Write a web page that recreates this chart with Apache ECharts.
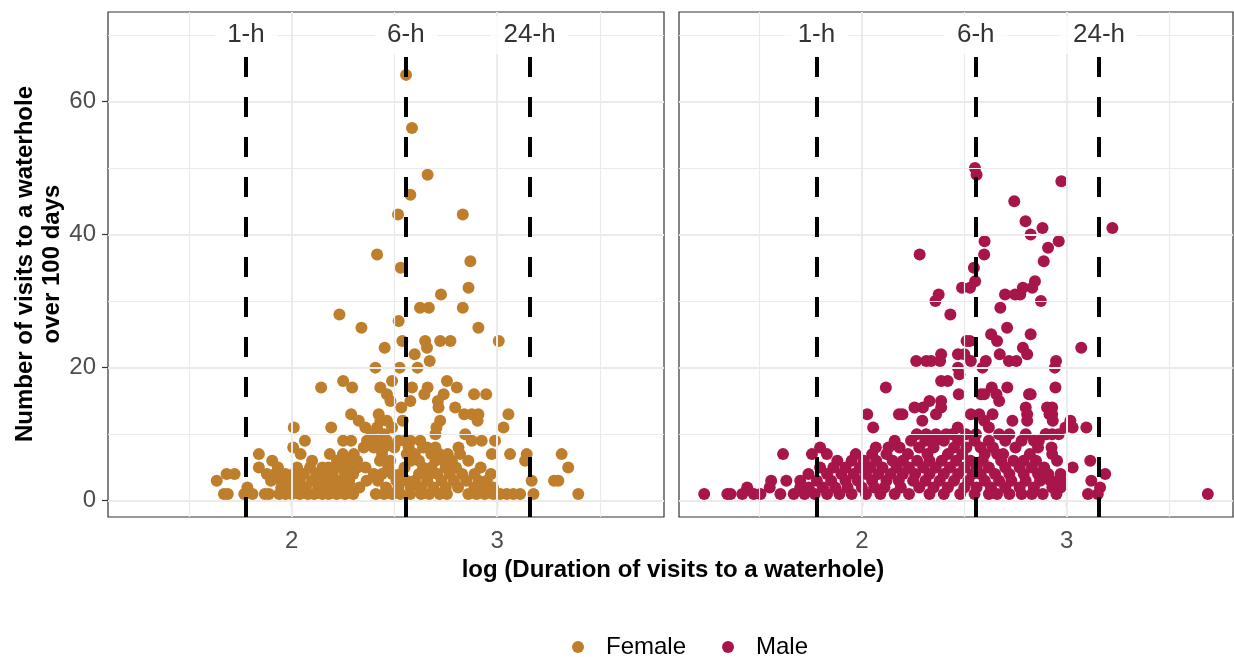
<!DOCTYPE html>
<html>
<head>
<meta charset="utf-8">
<script src="https://cdn.jsdelivr.net/npm/echarts@6/dist/echarts.min.js"></script>
<style>html,body{margin:0;padding:0;background:#fff}#c{width:1234px;height:657px}</style>
</head>
<body>
<div id="c"></div>
<script>
// ---- data (x = log10 duration, y = visits) ----
const female = [
[2.557,64],[2.586,56],[2.662,49],[2.578,46],[2.518,43],[2.833,43],[2.416,37],[2.870,36],[2.531,35],[2.861,32],
[2.727,31],[2.625,29],[2.668,29],[2.833,29],[2.233,28],[2.521,27],[2.340,26],[2.909,26],[2.539,24],[2.650,24],
[2.723,24],[2.773,24],[3.008,24],[2.453,23],[2.659,23],[2.599,22],[2.672,21],[2.408,20],[2.526,20],[2.613,20],
[2.251,18],[2.489,18],[2.756,18],[2.144,17],[2.295,17],[2.432,17],[2.586,17],[2.662,17],[2.804,17],[2.464,16],
[2.646,16],[2.740,16],[2.888,16],[2.947,16],[2.481,15],[2.578,15],[2.712,15],[2.534,14],[2.715,14],[2.796,14],
[2.290,13],[2.424,13],[2.840,13],[2.877,13],[2.909,13],[3.055,13],[2.327,12],[2.432,12],[2.464,12],[2.541,12],
[2.723,12],[2.905,12],[2.011,11],[2.193,11],[2.359,11],[2.416,11],[2.489,11],[2.705,11],[3.031,11],[2.700,10],
[2.845,10],[2.450,10],[2.390,10],
[2.065,9],[2.251,9],[2.290,9],[2.367,9],[2.416,9],[2.464,9],[2.521,9],[2.578,9],[2.626,9],[2.877,9],[2.925,9],[2.990,9],[2.550,9],
[2.008,8],[2.351,8],[2.400,8],[2.500,8],[2.570,8],[2.640,8],[2.812,8],[2.660,8],[2.700,8],[2.450,8],
[1.841,7],[2.044,7],[2.186,7],[2.303,7],[2.440,7],[2.560,7],[2.600,7],[2.680,7],[2.720,7],[2.760,7],[2.974,7],[3.063,7],[3.144,7],[3.314,7],[2.820,7],[2.250,7],
[1.906,6],[2.221,6],[2.319,6],[2.430,6],[2.480,6],[2.580,6],[2.620,6],[2.700,6],[2.740,6],[2.860,6],[3.136,6],[2.100,6],[2.270,6],[2.780,6],
[1.841,5],[1.934,5],[2.027,5],[2.150,5],[2.180,5],[2.220,5],[2.270,5],[2.360,5],[2.470,5],[2.550,5],[2.640,5],[2.680,5],[2.750,5],[2.800,5],[2.920,5],[3.346,5],[2.090,5],[2.320,5],
[1.684,4],[1.723,4],[1.880,4],[1.920,4],[1.970,4],[2.010,4],[2.060,4],[2.120,4],[2.170,4],[2.200,4],[2.260,4],[2.300,4],[2.400,4],[2.440,4],[2.490,4],[2.530,4],[2.620,4],[2.670,4],[2.710,4],[2.770,4],[2.830,4],[2.970,4],[2.890,4],
[1.636,3],[1.900,3],[1.950,3],[2.000,3],[2.040,3],[2.100,3],[2.140,3],[2.190,3],[2.240,3],[2.280,3],[2.365,3],[2.420,3],[2.510,3],[2.560,3],[2.600,3],[2.660,3],[2.730,3],[2.790,3],[2.850,3],[2.910,3],[3.168,3],[3.277,3],[3.298,3],[2.950,3],
[1.785,2],[1.950,2],[1.980,2],[2.030,2],[2.070,2],[2.130,2],[2.160,2],[2.210,2],[2.250,2],[2.290,2],[2.330,2],[2.460,2],[2.520,2],[2.580,2],[2.630,2],[2.690,2],[2.750,2],[2.890,2],[2.930,2],[2.980,2],[2.810,2],
[1.671,1],[1.690,1],[1.770,1],[1.810,1],[1.870,1],[1.890,1],[1.940,1],[1.970,1],[2.000,1],[2.040,1],[2.080,1],[2.110,1],[2.150,1],[2.180,1],[2.220,1],[2.260,1],[2.300,1],[2.410,1],[2.450,1],[2.490,1],[2.530,1],[2.578,1],[2.630,1],[2.670,1],[2.720,1],[2.756,1],[2.860,1],[2.900,1],[2.940,1],[2.982,1],[3.015,1],[3.047,1],[3.079,1],[3.112,1],[3.177,1],[3.395,1]
];
const male = [
[2.552,50],[2.560,49],[2.974,48],[2.744,45],[2.799,42],[2.882,41],[3.223,41],[2.824,40],[2.961,39],[2.599,39],
[2.909,38],[2.282,37],[2.597,37],[2.888,36],[2.547,35],[2.553,33],[2.845,33],[2.489,32],[2.528,32],[2.786,32],
[2.832,32],[2.375,31],[2.699,31],[2.748,31],[2.773,31],[2.359,30],[2.874,30],[2.676,29],[2.432,28],[2.709,26],
[2.631,25],[2.824,25],[2.660,24],[2.511,24],[2.527,24],[2.786,23],[3.071,23],[2.807,22],[2.387,22],[2.469,22],
[2.500,22],[2.673,22],[2.265,21],[2.314,21],[2.338,21],[2.382,21],[2.532,21],[2.605,21],[2.718,21],[2.754,21],
[2.948,21],[2.589,20],[2.469,20],[2.942,20],[2.476,19],[2.387,18],[2.419,18],[2.117,17],[2.634,17],[2.710,17],[2.945,17],
[2.473,16],[2.581,16],[2.597,16],[2.657,16],[2.816,16],[2.824,16],
[2.670,15],[2.330,15],[2.387,15],
[2.257,14],[2.298,14],[2.387,14],[2.800,14],[2.904,14],[2.929,14],
[2.026,13],[2.181,13],[2.198,13],[2.362,13],[2.532,13],[2.573,13],[2.638,13],[2.807,13],[2.916,13],[2.929,13],
[2.295,12],[2.597,12],[2.735,12],[2.807,12],[2.932,12],[3.018,12],
[2.055,11],[2.468,11],[2.994,11],[3.029,11],[3.096,11],[2.620,11],
[2.268,10],[2.314,10],[2.362,10],[2.411,10],[2.508,10],[2.557,10],[2.670,10],[2.897,10],[2.929,10],[2.900,10],[2.961,10],[2.440,10],[2.720,10],[2.800,10],
[2.160,9],[2.864,9],[2.240,9],[2.360,9],[2.400,9],[2.470,9],[2.550,9],[2.620,9],[2.700,9],[2.780,9],[2.840,9],[2.310,9],
[2.068,8],[1.796,8],[2.184,8],[2.280,8],[2.350,8],[2.450,8],[2.510,8],[2.580,8],[2.640,8],[2.750,8],[2.926,8],[2.860,8],[2.130,8],
[1.615,7],[1.756,7],[1.829,7],[1.970,7],[2.225,7],[2.320,7],[2.420,7],[2.490,7],[2.600,7],[2.660,7],[2.690,7],[2.820,7],[2.929,7],[2.050,7],[2.120,7],
[1.880,6],[1.950,6],[2.010,6],[2.070,6],[2.150,6],[2.200,6],[2.270,6],[2.330,6],[2.390,6],[2.460,6],[2.530,6],[2.590,6],[2.680,6],[2.740,6],[2.790,6],[2.850,6],[2.953,6],[3.115,6],
[1.796,5],[1.861,5],[1.920,5],[1.990,5],[2.040,5],[2.100,5],[2.170,5],[2.230,5],[2.300,5],[2.360,5],[2.430,5],[2.500,5],[2.560,5],[2.620,5],[2.700,5],[2.770,5],[2.830,5],[2.890,5],[3.029,5],
[1.739,4],[1.830,4],[1.900,4],[1.960,4],[2.020,4],[2.080,4],[2.140,4],[2.200,4],[2.260,4],[2.330,4],[2.400,4],[2.470,4],[2.540,4],[2.580,4],[2.650,4],[2.720,4],[2.790,4],[2.860,4],[2.910,4],[3.188,4],[2.970,4],
[1.557,3],[1.631,3],[1.699,3],[1.780,3],[1.850,3],[1.920,3],[1.980,3],[2.050,3],[2.120,3],[2.180,3],[2.250,3],[2.310,3],[2.380,3],[2.450,3],[2.520,3],[2.600,3],[2.670,3],[2.730,3],[2.800,3],[2.870,3],[2.920,3],[2.955,3],[2.975,3],[3.120,3],
[1.440,2],[1.550,2],[1.699,2],[1.740,2],[1.810,2],[1.870,2],[1.930,2],[2.000,2],[2.060,2],[2.110,2],[2.190,2],[2.280,2],[2.350,2],[2.420,2],[2.500,2],[2.560,2],[2.630,2],[2.700,2],[2.770,2],[2.840,2],[2.930,2],[2.970,2],[3.163,2],
[1.230,1],[1.343,1],[1.359,1],[1.416,1],[1.472,1],[1.505,1],[1.602,1],[1.667,1],[1.720,1],[1.770,1],[1.830,1],[1.890,1],[1.950,1],[2.020,1],[2.090,1],[2.160,1],[2.230,1],[2.330,1],[2.400,1],[2.480,1],[2.550,1],[2.620,1],[2.660,1],[2.720,1],[2.780,1],[2.830,1],[2.883,1],[2.950,1],[3.104,1],[3.152,1],[3.689,1]
];
const refX = [1.778, 2.556, 3.158];        // log10(60), log10(360), log10(1440)
const refLabels = ['1-h', '6-h', '24-h'];
const refLabelY = 70;
const refLineTop = 67;
const xTicks = [2, 3];
const yTicks = [0, 20, 40, 60];
const xMinor = [1.5, 2.5, 3.5];
const yMinor = [10, 30, 50, 70];
const xRange = [1.107, 3.812];
const yRange = [-2.45, 73.45];
const groups = ['Female', 'Male'];
const colors = ['#BF7E2C', '#A8154A'];

const FONT = '"Liberation Sans", Arial, sans-serif';
const GRID_COLOR = '#EBEBEB';

function gridLineSeries(i) {
  const d = [];
  xMinor.forEach(v => d.push({xAxis: v, lineStyle: {color: GRID_COLOR, width: 1.2, type: 'solid'}}));
  xTicks.forEach(v => d.push({xAxis: v, lineStyle: {color: GRID_COLOR, width: 2, type: 'solid'}}));
  yMinor.forEach(v => d.push({yAxis: v, lineStyle: {color: GRID_COLOR, width: 1.2, type: 'solid'}}));
  yTicks.forEach(v => d.push({yAxis: v, lineStyle: {color: GRID_COLOR, width: 2, type: 'solid'}}));
  return {
    type: 'scatter', xAxisIndex: i, yAxisIndex: i, data: [], silent: true, z: 1,
    markLine: {silent: true, symbol: 'none', animation: false, label: {show: false}, data: d}
  };
}
function refLineSeries(i) {
  return {
    type: 'scatter', xAxisIndex: i, yAxisIndex: i, data: [], silent: true, z: 2,
    markLine: {
      silent: true, symbol: 'none', animation: false, label: {show: false},
      lineStyle: {color: '#000', width: 4, type: [20, 20], dashOffset: 0},
      data: refX.map(v => [{coord: [v, yRange[0]]}, {coord: [v, refLineTop]}])
    }
  };
}
function refLabelSeries(i) {
  return {
    type: 'scatter', xAxisIndex: i, yAxisIndex: i, silent: true, z: 5,
    symbol: 'circle', symbolSize: 1, itemStyle: {color: 'rgba(255,255,255,0)'},
    data: refX.map((v, k) => ({value: [v, refLabelY], name: refLabels[k]})),
    label: {
      show: true, position: 'inside', offset: [0, 2], formatter: p => p.name,
      fontFamily: FONT, fontSize: 26, color: '#000', textBorderWidth: 0, textBorderColor: 'transparent',
      backgroundColor: '#fff', padding: [6, 13]
    },
    labelLayout: {hideOverlap: false}
  };
}

const series = [];
[0, 1].forEach(i => {
  series.push(gridLineSeries(i));
  series.push(refLineSeries(i));
  series.push(refLabelSeries(i));
});
series.push({
  name: groups[0], type: 'scatter', xAxisIndex: 0, yAxisIndex: 0, z: 3,
  symbol: 'circle', symbolSize: 12, itemStyle: {color: colors[0], opacity: 1}, data: female
});
series.push({
  name: groups[1], type: 'scatter', xAxisIndex: 1, yAxisIndex: 1, z: 3,
  symbol: 'circle', symbolSize: 12, itemStyle: {color: colors[1], opacity: 1}, data: male
});

function xAxisDef(i) {
  return {
    type: 'value', gridIndex: i, min: xRange[0], max: xRange[1],
    axisLine: {show: false}, splitLine: {show: false},
    axisTick: {show: true, customValues: xTicks, length: 6, lineStyle: {color: '#333', width: 1.2}},
    axisLabel: {show: true, customValues: xTicks, margin: 12, fontSize: 24, color: '#4D4D4D', fontFamily: FONT}
  };
}
function yAxisDef(i) {
  return {
    type: 'value', gridIndex: i, min: yRange[0], max: yRange[1],
    axisLine: {show: false}, splitLine: {show: false},
    axisTick: {show: i === 0, customValues: yTicks, length: 6, lineStyle: {color: '#333', width: 1.2}},
    axisLabel: {show: i === 0, customValues: yTicks, margin: 12, fontSize: 24, color: '#4D4D4D', fontFamily: FONT}
  };
}

const chart = echarts.init(document.getElementById('c'), null, {renderer: 'canvas'});
chart.setOption({
  animation: false,
  backgroundColor: '#fff',
  grid: [
    {left: 108, top: 12, width: 556, height: 505, show: true, borderColor: '#333', borderWidth: 1.2, backgroundColor: 'transparent'},
    {left: 679, top: 12, width: 554, height: 505, show: true, borderColor: '#333', borderWidth: 1.2, backgroundColor: 'transparent'}
  ],
  xAxis: [xAxisDef(0), xAxisDef(1)],
  yAxis: [yAxisDef(0), yAxisDef(1)],
  legend: {
    data: groups, left: 572, top: 635, padding: 0, icon: 'circle', itemWidth: 12, itemHeight: 12, itemGap: 36,
    textStyle: {fontSize: 24, color: '#000', fontFamily: FONT, padding: [0, 0, 0, 17]}
  },
  graphic: [
    {type: 'text', x: 673, y: 570, silent: true,
     style: {text: 'log (Duration of visits to a waterhole)', font: 'bold 24px ' + FONT, fill: '#000', textAlign: 'center', textVerticalAlign: 'middle'}},
    {type: 'text', x: 39, y: 264, rotation: Math.PI / 2, silent: true,
     style: {text: 'Number of visits to a waterhole\nover 100 days', font: 'bold 24px ' + FONT, fill: '#000', textAlign: 'center', textVerticalAlign: 'middle', lineHeight: 27}}
  ],
  series: series
});
</script>
</body>
</html>
